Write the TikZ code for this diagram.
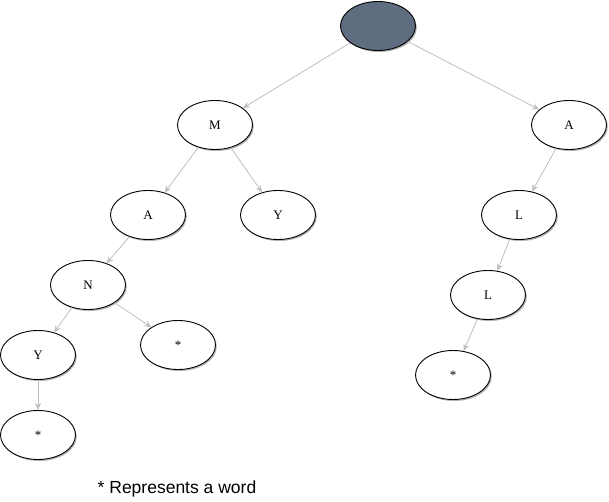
\documentclass[tikz,border=0pt]{standalone}
\usepackage{fontspec}
\setmainfont{Liberation Serif}
\newfontfamily\legendfont{Liberation Sans}
\usetikzlibrary{shapes.geometric,shadows,arrows.meta}

\begin{document}
\begin{tikzpicture}[x=1pt,y=-1pt,
  trienode/.style={ellipse,draw,line width=0.9pt,fill=white,minimum width=75,minimum height=49,inner sep=0,font=\fontsize{13}{15}\selectfont,
    drop shadow={shadow xshift=1.3pt,shadow yshift=-1.5pt,fill=black!30,opacity=1}},
  trieedge/.style={draw=black!25,line width=0.8pt,-{Stealth[length=7pt,width=6pt,fill=black!25]}}]
\definecolor{slate}{HTML}{5E6D80}
\useasboundingbox (0,0) rectangle (609,502);
\node [trienode,fill=slate] (root) at (378,26) {};
  \foreach \nm/\x/\y/\txt in {m/215/125/M,my/278/215/Y,ma/148/215/A,man/88/285/N,many/38/355/Y,manyw/38/435/*,manw/178/345/*,%
    a/569/125/A,al/519/215/L,all/488/295/L,allw/453/375/*}
  {  \node [trienode] (\nm) at (\x,\y) {\txt};}
  \foreach \from/\to in {root/m,m/ma,m/my,ma/man,man/many,man/manw,many/manyw,root/a,a/al,al/all,all/allw}
  {  \draw [trieedge] (\from) -- (\to);}
\node [font=\legendfont\fontsize{17.5}{20}\selectfont] (legend) at (177,489) {* Represents a word};
\end{tikzpicture}
\end{document}
